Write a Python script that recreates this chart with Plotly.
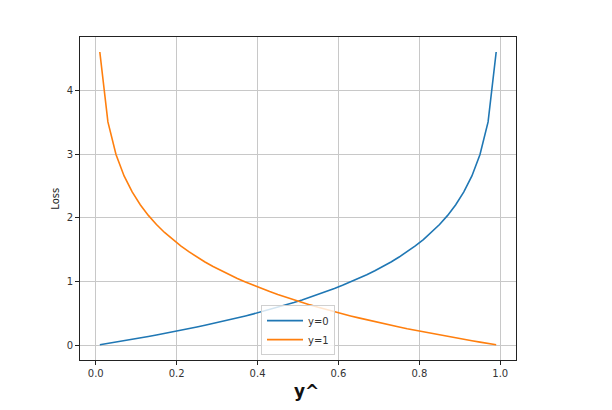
import plotly.graph_objects as go

# predicted probability, step 0.02
y_hat = [0.01, 0.03, 0.05, 0.07, 0.09, 0.11, 0.13, 0.15, 0.17, 0.19,
         0.21, 0.23, 0.25, 0.27, 0.29, 0.31, 0.33, 0.35, 0.37, 0.39,
         0.41, 0.43, 0.45, 0.47, 0.49, 0.51, 0.53, 0.55, 0.57, 0.59,
         0.61, 0.63, 0.65, 0.67, 0.69, 0.71, 0.73, 0.75, 0.77, 0.79,
         0.81, 0.83, 0.85, 0.87, 0.89, 0.91, 0.93, 0.95, 0.97, 0.99]

loss_y0 = [0.010, 0.030, 0.051, 0.073, 0.094, 0.117, 0.139, 0.163, 0.186, 0.211,
           0.236, 0.261, 0.288, 0.315, 0.342, 0.371, 0.400, 0.431, 0.462, 0.494,
           0.528, 0.562, 0.598, 0.635, 0.673, 0.713, 0.755, 0.799, 0.844, 0.892,
           0.942, 0.994, 1.050, 1.109, 1.171, 1.238, 1.309, 1.386, 1.470, 1.561,
           1.661, 1.772, 1.897, 2.040, 2.207, 2.408, 2.659, 2.996, 3.507, 4.605]

loss_y1 = [4.605, 3.507, 2.996, 2.659, 2.408, 2.207, 2.040, 1.897, 1.772, 1.661,
           1.561, 1.470, 1.386, 1.309, 1.238, 1.171, 1.109, 1.050, 0.994, 0.942,
           0.892, 0.844, 0.799, 0.755, 0.713, 0.673, 0.635, 0.598, 0.562, 0.528,
           0.494, 0.462, 0.431, 0.400, 0.371, 0.342, 0.315, 0.288, 0.261, 0.236,
           0.211, 0.186, 0.163, 0.139, 0.117, 0.094, 0.073, 0.051, 0.030, 0.010]

x_ticks = [0.0, 0.2, 0.4, 0.6, 0.8, 1.0]
y_ticks = [0, 1, 2, 3, 4]

fig = go.Figure()
fig.add_trace(go.Scatter(x=y_hat, y=loss_y0, mode="lines", name="y=0",
                         line=dict(color="#1f77b4", width=1.6)))
fig.add_trace(go.Scatter(x=y_hat, y=loss_y1, mode="lines", name="y=1",
                         line=dict(color="#ff7f0e", width=1.6)))

axis_style = dict(showline=True, mirror=True, linecolor="#222", linewidth=1,
                  showgrid=True, gridcolor="#c8c8c8", gridwidth=1,
                  ticks="outside", ticklen=4, tickcolor="#222",
                  tickfont=dict(size=10, color="#333"), zeroline=False)

fig.update_xaxes(range=[-0.039, 1.039], tickvals=x_ticks,
                 ticktext=["0.0", "0.2", "0.4", "0.6", "0.8", "1.0"], **axis_style)
fig.update_yaxes(range=[-0.23, 4.84], tickvals=y_ticks, **axis_style)

# page body adds 8px, so figure is a bit smaller
fig.update_layout(
    width=604, height=402,
    margin=dict(l=72, r=96, t=29, b=50),
    paper_bgcolor="white", plot_bgcolor="white",
    font=dict(family="DejaVu Sans", color="#222"),
    showlegend=True,
    legend=dict(x=0.5, y=0.015, xanchor="center", yanchor="bottom",
                bgcolor="rgba(255,255,255,0.8)", bordercolor="#d0d0d0", borderwidth=1,
                font=dict(size=10, color="#333"), tracegroupgap=0,
                itemwidth=36),
    annotations=[
        dict(text="Loss", x=-0.057, y=0.5, xref="paper", yref="paper",
             textangle=-90, showarrow=False, font=dict(size=10, color="#222"),
             xanchor="center", yanchor="middle"),
        dict(text="<b>y^</b>", x=0.52, y=-0.095, xref="paper", yref="paper",
             showarrow=False, font=dict(size=17, color="#111"),
             xanchor="center", yanchor="middle"),
    ],
)

fig.write_html("out.html")
